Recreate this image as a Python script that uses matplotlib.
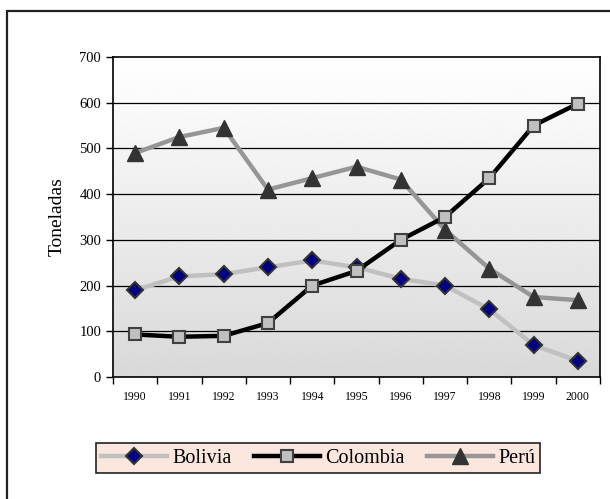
import numpy as np
import matplotlib.pyplot as plt
from matplotlib.patches import Rectangle

years = ['1990', '1991', '1992', '1993', '1994', '1995', '1996', '1997', '1998', '1999', '2000']
bolivia = [190, 220, 225, 240, 255, 240, 215, 200, 148, 70, 35]
colombia = [93, 88, 90, 118, 200, 232, 300, 350, 435, 550, 598]
peru = [490, 525, 545, 410, 435, 460, 432, 322, 237, 175, 168]

plt.rcParams['font.family'] = ['Liberation Serif', 'DejaVu Serif']

W, H = 610, 499
fig = plt.figure(figsize=(W / 100, H / 100), dpi=100)

# outer frame (right and bottom edges run past the picture)
fig.patches.append(Rectangle((7 / W, -0.1), 1.2, 1 - 11 / H + 0.1,
                             transform=fig.transFigure, fill=False,
                             edgecolor='#222222', linewidth=1.6))

ax = fig.add_axes([113 / W, 1 - 377 / H, (600 - 113) / W, (377 - 57) / H])

x = np.arange(len(years))
ax.set_xlim(-0.5, len(years) - 0.5)
ax.set_ylim(0, 700)

# gradient background: white at top, light grey at bottom
grad = np.linspace(0.85, 1.0, 256).reshape(-1, 1)
ax.imshow(grad, extent=[-0.5, len(years) - 0.5, 0, 700], origin='lower',
          aspect='auto', cmap='gray', vmin=0, vmax=1, zorder=0)

for yv in range(100, 700, 100):
    ax.axhline(yv, color='black', linewidth=0.9, zorder=1)

ax.plot(x, bolivia, color='#c0c0c0', linewidth=3.2, marker='D', markersize=8,
        markerfacecolor='#000080', markeredgecolor='#333333', markeredgewidth=1.5,
        label='Bolivia', zorder=3)
ax.plot(x, colombia, color='black', linewidth=3.2, marker='s', markersize=9,
        markerfacecolor='#c0c0c0', markeredgecolor='#404040', markeredgewidth=1.5,
        label='Colombia', zorder=4)
ax.plot(x, peru, color='#969696', linewidth=3.2, marker='^', markersize=11,
        markerfacecolor='#333333', markeredgecolor='#333333', markeredgewidth=1,
        label='Perú', zorder=3)

ax.set_yticks(range(0, 701, 100))
ax.tick_params(axis='y', labelsize=10.5, direction='out', length=5, width=1)
ax.set_xticks(np.arange(-0.5, len(years) - 0.5 + 0.01, 1))
ax.set_xticklabels([])
ax.set_xticks(x, minor=True)
ax.set_xticklabels(years, minor=True, fontsize=8.5)
ax.tick_params(axis='x', which='major', direction='out', length=5, width=1)
ax.tick_params(axis='x', which='minor', length=0, pad=10)
for s in ax.spines.values():
    s.set_linewidth(1.2)
    s.set_color('black')

ax.set_ylabel('Toneladas', fontsize=14, labelpad=10)

leg = fig.legend(loc='center', bbox_to_anchor=(318 / W, 1 - 458 / H), ncol=3,
                 fontsize=14.5, frameon=True, fancybox=False, handlelength=3.3,
                 handletextpad=0.25, columnspacing=1.1, borderpad=0.25)
leg.get_frame().set_facecolor('#fbe6dd')
leg.get_frame().set_edgecolor('#222222')
leg.get_frame().set_linewidth(1.2)
leg.get_frame().set_alpha(1)

fig.savefig('out.png', dpi=100)
